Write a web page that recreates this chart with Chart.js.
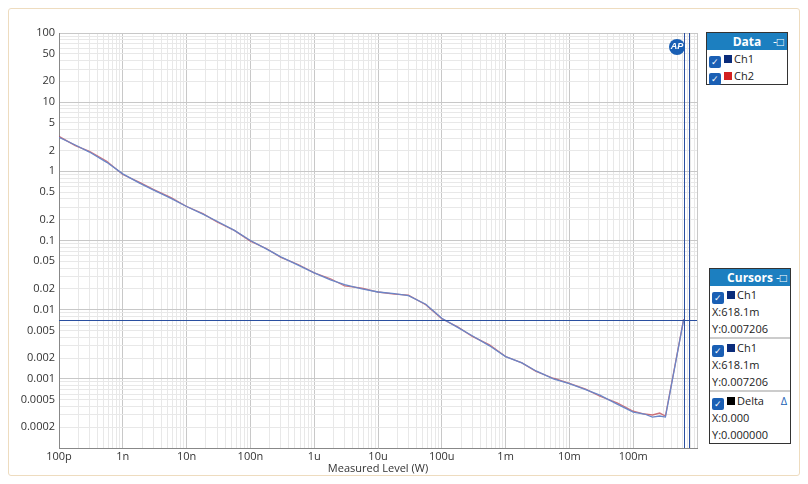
<!DOCTYPE html>
<html><head><meta charset="utf-8">
<script src="https://cdn.jsdelivr.net/npm/chart.js@4"></script>
<style>
body{margin:0;width:808px;height:484px;background:#fff;font-family:"Open Sans",sans-serif;overflow:hidden}
#frame{position:absolute;left:8px;top:8px;width:790px;height:466px;border:1.5px solid #eedcbf;border-radius:3px}
#wrap{position:absolute;left:10px;top:20px;width:695px;height:455px}
.panel{position:absolute;border:1.5px solid #333;background:#fff;font-size:11px;color:#222}
.hd{background:#1c7fc0;color:#fff;font-weight:bold;text-align:center;height:17px;line-height:17px;font-size:12px;position:relative}
.hd span{position:absolute;right:3px;top:0;font-weight:normal}
.row{height:17px;line-height:17px;padding-left:2px;white-space:nowrap}
.cb{display:inline-block;width:12px;height:12px;background:#1a5fb4;border-radius:2px;vertical-align:-2px;margin-right:3px;color:#fff;font-size:9px;line-height:12px;text-align:center}
.sq{display:inline-block;width:8px;height:8px;vertical-align:0px;margin-right:2px}
.sep{border-top:2px solid #ccc}
</style></head><body>
<div id="frame"></div>
<div id="wrap"><canvas id="c"></canvas></div>
<div class="panel" style="left:706px;top:32px;width:80px">
<div class="hd">Data<span>-□</span></div>
<div class="row"><span class="cb">✓</span><span class="sq" style="background:#0b2c7a"></span>Ch1</div>
<div class="row"><span class="cb">✓</span><span class="sq" style="background:#d32020"></span>Ch2</div>
</div>
<div class="panel" style="left:709px;top:268px;width:80px">
<div class="hd">Cursors<span>-□</span></div>
<div class="row"><span class="cb">✓</span><span class="sq" style="background:#0b2c7a"></span>Ch1</div>
<div class="row">X:618.1m</div>
<div class="row">Y:0.007206</div>
<div class="row sep"><span class="cb">✓</span><span class="sq" style="background:#0b2c7a"></span>Ch1</div>
<div class="row">X:618.1m</div>
<div class="row">Y:0.007206</div>
<div class="row sep"><span class="cb">✓</span><span class="sq" style="background:#000"></span>Delta<span style="float:right;margin-right:3px;color:#1a5fb4">Δ</span></div>
<div class="row">X:0.000</div>
<div class="row">Y:0.000000</div>
</div>
<script>
const levels = [1e-10,1.8e-10,3e-10,5.6e-10,1e-9,1.8e-9,3e-9,5.6e-9,1e-8,1.8e-8,3e-8,5.6e-8,1e-7,1.8e-7,3e-7,5.6e-7,1e-6,1.8e-6,3e-6,5.6e-6,1e-5,1.8e-5,3e-5,5.6e-5,1e-4,1.8e-4,3e-4,5.6e-4,1e-3,1.8e-3,3e-3,5.6e-3,1e-2,1.8e-2,3e-2,5.6e-2,0.1,0.15,0.2,0.26,0.32,0.618];
const ch1 = [3.1,2.4,1.9,1.35,0.92,0.68,0.54,0.41,0.31,0.24,0.19,0.14,0.1,0.075,0.058,0.044,0.034,0.027,0.023,0.02,0.018,0.017,0.016,0.012,0.0075,0.0055,0.0042,0.003,0.0021,0.0017,0.0013,0.001,0.00085,0.0007,0.00058,0.00043,0.00033,0.00031,0.00028,0.00029,0.00028,0.0072];
const ch2 = [3.2,2.35,1.95,1.4,0.9,0.7,0.55,0.42,0.31,0.245,0.185,0.14,0.098,0.076,0.057,0.045,0.034,0.028,0.022,0.0205,0.018,0.0168,0.0162,0.0118,0.0074,0.0056,0.0041,0.0031,0.0021,0.0017,0.00128,0.00102,0.00086,0.00071,0.00056,0.00045,0.00034,0.00031,0.0003,0.00032,0.00029,0.0073];
const xLabels = {1e-10:"100p",1e-9:"1n",1e-8:"10n",1e-7:"100n",1e-6:"1u",1e-5:"10u",1e-4:"100u",1e-3:"1m",1e-2:"10m",1e-1:"100m"};
const yLabeled = [100,50,20,10,5,2,1,0.5,0.2,0.1,0.05,0.02,0.01,0.005,0.002,0.001,0.0005,0.0002];
const cursorX = [0.6181, 0.74];
const cursorY = 0.007206;

function logTicks(min, max){
  const t=[];
  for(let e=Math.round(Math.log10(min)); e<Math.round(Math.log10(max)); e++)
    for(let m=1;m<10;m++) t.push({value:+(m*Math.pow(10,e)).toPrecision(3)});
  t.push({value:max});
  return t;
}
const isDecade = v => Math.abs(Math.log10(v)-Math.round(Math.log10(v)))<1e-6;
const inList = (v,list) => list.some(l => Math.abs(l-v)/l<1e-6);

const cursors = {
  id:'cursors',
  afterDatasetsDraw(ch){
    const {ctx, chartArea:a, scales:{x,y}} = ch;
    ctx.save(); ctx.strokeStyle='#2a4fa0'; ctx.lineWidth=1;
    cursorX.forEach(v=>{const px=Math.round(x.getPixelForValue(v))+0.5;ctx.beginPath();ctx.moveTo(px,a.top);ctx.lineTo(px,a.bottom);ctx.stroke();});
    const py=Math.round(y.getPixelForValue(cursorY))+0.5;
    ctx.beginPath();ctx.moveTo(a.left,py);ctx.lineTo(a.right,py);ctx.stroke();
    ctx.fillStyle='#1a5fb4';ctx.beginPath();ctx.arc(a.right-20,a.top+14,8,0,2*Math.PI);ctx.fill();
    ctx.fillStyle='#fff';ctx.font='italic bold 9px Arial';ctx.textAlign='center';ctx.textBaseline='middle';
    ctx.fillText('AP',a.right-20,a.top+14);
    ctx.restore();
  }
};

new Chart(document.getElementById('c'), {
  type:'line',
  data:{datasets:[
    {label:'Ch1', data:levels.map((v,i)=>({x:v,y:ch1[i]})), borderColor:'#6a86c8', borderWidth:1.3, pointRadius:0, tension:0},
    {label:'Ch2', data:levels.map((v,i)=>({x:v,y:ch2[i]})), borderColor:'rgba(190,70,80,0.75)', borderWidth:1.3, pointRadius:0, tension:0}
  ]},
  options:{
    responsive:true, maintainAspectRatio:false, animation:false,
    layout:{padding:{top:13,right:8,left:0,bottom:0}},
    plugins:{legend:{display:false},tooltip:{enabled:false}},
    scales:{
      x:{type:'logarithmic', min:1e-10, max:1,
        afterBuildTicks:s=>{s.ticks=logTicks(1e-10,1);},
        afterFit:s=>{s.height=27;},
        ticks:{autoSkip:false,maxRotation:0,padding:2,color:'#333',font:{size:11,family:'Open Sans'},callback:v=>xLabels[v]||''},
        grid:{color:c=>c.tick&&isDecade(c.tick.value)?'#c8c8c8':'#e8e8e8',drawTicks:false},
        border:{color:'#888'},
        title:{display:true,text:'Measured Level (W)',padding:0,color:'#333',font:{size:11,family:'Open Sans'}}},
      y:{type:'logarithmic', min:1e-4, max:100,
        afterBuildTicks:s=>{s.ticks=logTicks(1e-4,100);},
        afterFit:s=>{s.width=49;},
        ticks:{autoSkip:false,padding:4,color:'#333',font:{size:11,family:'Open Sans'},callback:v=>inList(v,yLabeled)?String(+v.toPrecision(3)):''},
        grid:{color:c=>c.tick&&isDecade(c.tick.value)?'#c8c8c8':'#e8e8e8',drawTicks:false},
        border:{color:'#888'}}
    }
  },
  plugins:[cursors]
});
</script>
</body></html>
